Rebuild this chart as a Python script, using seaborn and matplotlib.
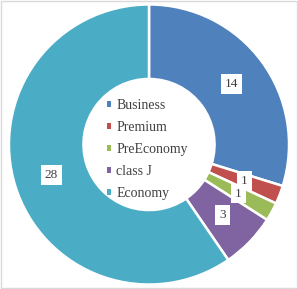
import matplotlib
matplotlib.use("Agg")
import matplotlib.pyplot as plt
import seaborn as sns
import numpy as np

categories = ["Business", "Premium", "PreEconomy", "class J", "Economy"]
values = [14, 1, 1, 3, 28]
colors = ["#4F81BD", "#C0504D", "#9BBB59", "#8064A2", "#4BACC6"]

sns.set_style("white")
plt.rcParams['font.family'] = ['Liberation Serif', 'DejaVu Serif']

fig = plt.figure(figsize=(2.98, 2.89), dpi=100)
ax = fig.add_axes([0, 0, 1, 1])
fig.patch.set_facecolor("white")

r_out = 0.94
width = 0.50
wedges, _ = ax.pie(values, colors=colors, startangle=90, counterclock=False,
                   radius=r_out,
                   wedgeprops=dict(width=width, edgecolor="white", linewidth=1.8))

total = sum(values)
cum = 0
r_lab = r_out - 0.255
for v in values:
    mid = (cum + v / 2) / total * 2 * np.pi
    cum += v
    x = r_lab * np.sin(mid)
    y = r_lab * np.cos(mid)
    ax.text(x, y, str(v), ha="center", va="center", fontsize=9.5, color="#404040",
            bbox=dict(boxstyle="square,pad=0.3", fc="white", ec="none"))

ax.set_xlim(-1.0, 1.0)
ax.set_ylim(-0.97, 0.97)
ax.set_aspect("equal")
ax.axis("off")

from matplotlib.patches import Patch
handles = [Patch(facecolor=c, edgecolor="none") for c in colors]
leg = ax.legend(handles, categories, loc="center", bbox_to_anchor=(0.495, 0.483),
                frameon=False, fontsize=10, handlelength=0.32, handleheight=0.32,
                handletextpad=0.35, labelspacing=0.64, labelcolor="#404040")

border = plt.Rectangle((0.002, 0.002), 0.995, 0.995, transform=fig.transFigure,
                       fill=False, ec="#D9D9D9", lw=1.0)
fig.patches.append(border)

fig.savefig("out.png", dpi=100, facecolor="white")
